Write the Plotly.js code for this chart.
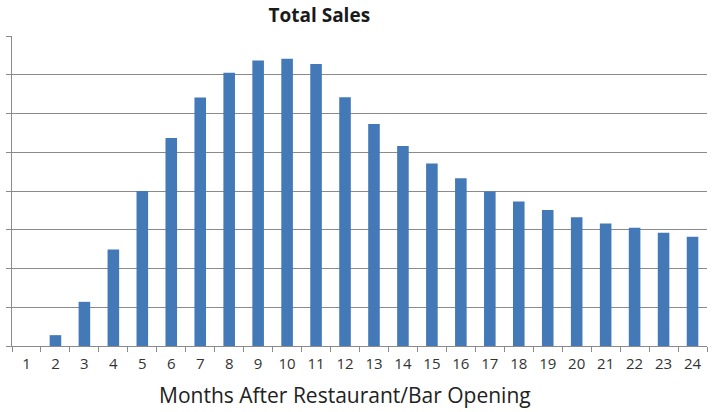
<!DOCTYPE html>
<html>
<head>
<meta charset="utf-8">
<script src="https://cdn.plot.ly/plotly-3.0.1.min.js"></script>
<style>html,body{margin:0;padding:0;background:#fff;}#chart{width:724px;height:412px;}</style>
</head>
<body>
<div id="chart"></div>
<script>
const months = ["1","2","3","4","5","6","7","8","9","10","11","12","13","14","15","16","17","18","19","20","21","22","23","24"];
const totalSales = [0, 0.28, 1.14, 2.49, 4.0, 5.37, 6.41, 7.05, 7.37, 7.41, 7.28, 6.42, 5.73, 5.16, 4.71, 4.33, 3.99, 3.73, 3.51, 3.32, 3.16, 3.05, 2.92, 2.82];
const chartTitle = "Total Sales";
const xTitle = "Months After Restaurant/Bar Opening";

const trace = {
  type: "bar",
  x: months,
  y: totalSales,
  marker: {color: "#4479b8", line: {width: 0}},
  hoverinfo: "x+y"
};

const layout = {
  width: 724, height: 412,
  margin: {l: 12, r: 17, t: 36, b: 66},
  paper_bgcolor: "#fff", plot_bgcolor: "#fff",
  bargap: 0.6,
  showlegend: false,
  title: {text: "<b>" + chartTitle + "</b>", x: 0.441, xref: "container", xanchor: "center", y: 0.962, yref: "container", yanchor: "middle",
          font: {family: "Open Sans, Lato, sans-serif", size: 19, color: "#1a1a1a"}},
  xaxis: {
    type: "category",
    tickson: "boundaries",
    ticks: "outside", ticklen: 5, tickcolor: "#8a8a8a", tickwidth: 1,
    showline: true, linecolor: "#8a8a8a", linewidth: 1,
    showgrid: false,
    ticklabelstandoff: 4,
    tickfont: {family: "Open Sans, Lato, sans-serif", size: 15, color: "#333"},
    fixedrange: true
  },
  yaxis: {
    range: [0, 8], dtick: 1, tick0: 0,
    showticklabels: false,
    ticks: "outside", ticklen: 5, tickcolor: "#8a8a8a",
    showgrid: true, gridcolor: "#8a8a8a", gridwidth: 1,
    showline: true, linecolor: "#8a8a8a", linewidth: 1,
    zeroline: false,
    fixedrange: true
  },
  annotations: [{
    text: xTitle, xref: "paper", yref: "paper", x: 0.479, y: -0.158, xanchor: "center", yanchor: "middle",
    showarrow: false, font: {family: "Open Sans, Lato, sans-serif", size: 21, color: "#222"}
  }]
};

Plotly.newPlot("chart", [trace], layout, {displayModeBar: false, staticPlot: true});
</script>
</body>
</html>
